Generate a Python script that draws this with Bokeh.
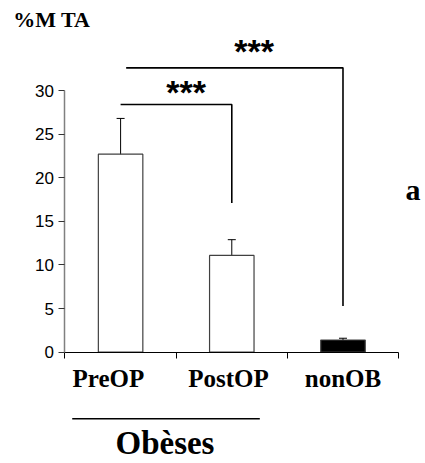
from bokeh.plotting import figure
from bokeh.models import (Range1d, LinearAxis, FixedTicker, Label, Whisker, TeeHead,
                          ColumnDataSource)
from bokeh.embed import file_html
from bokeh.resources import INLINE
from bokeh.core.properties import value

# ---- data ----
categories = ["PreOP", "PostOP", "nonOB"]
means = [22.7, 11.1, 1.4]
errors = [4.1, 1.8, 0.2]
bar_fill = ["white", "white", "black"]
y_ticks = [0, 5, 10, 15, 20, 25, 30]
y_title = "%M TA"
panel_letter = "a"
group_label = "Obèses"
# significance brackets between categories
bracket_from = [0, 0]
bracket_to = [1, 2]
bracket_heights = [28.4, 32.6]
bracket_drop_to = [17.1, 5.3]
bracket_text = ["***", "***"]

# ---- layout helpers (positions/styles) ----
x = [i + 0.5 for i in range(len(categories))]
label_x = [0.39, 1.47, 2.50]
bracket_left_shift = [0.0, 0.05]
star_x = [1.09, 1.70]
star_y = [30.4, 35.1]
group_line_x = [0.065, 1.752]
group_line_y = -7.63

p = figure(width=425, height=463, x_range=Range1d(-0.580, 3.242), y_range=Range1d(-12.76, 40.32),
           output_backend="svg", toolbar_location=None,
           x_axis_type=None, y_axis_type=None,
           min_border_left=0, min_border_right=0, min_border_top=0, min_border_bottom=0)
p.outline_line_color = None
p.background_fill_color = "white"
p.border_fill_color = "white"

yaxis = LinearAxis(bounds=(0, 30), fixed_location=0,
                   ticker=FixedTicker(ticks=y_ticks, minor_ticks=[]),
                   axis_line_color="#808080", axis_line_width=1.5,
                   major_tick_line_color="#333333", major_tick_out=6, major_tick_in=0,
                   minor_tick_line_color=None,
                   major_label_text_font="Liberation Sans", major_label_text_font_size="17px",
                   major_label_text_color="black", major_label_standoff=5)
p.add_layout(yaxis, "left")

xaxis = LinearAxis(bounds=(0, 3), fixed_location=0,
                   ticker=FixedTicker(ticks=label_x, minor_ticks=[0, 1, 2, 3]),
                   major_label_overrides={lx: c for lx, c in zip(label_x, categories)},
                   major_tick_line_color=None, major_tick_out=0, major_tick_in=0,
                   minor_tick_line_color="black", minor_tick_out=6, minor_tick_in=0,
                   axis_line_color="black", axis_line_width=1.2,
                   major_label_text_font="Liberation Serif", major_label_text_font_style="bold",
                   major_label_text_font_size="25px", major_label_text_color="black",
                   major_label_standoff=7)
p.add_layout(xaxis, "below")

p.vbar(x=x, top=means, width=0.4, fill_color=bar_fill, line_color="#404040", line_width=1.2)

src = ColumnDataSource(dict(x=x, upper=[m + e for m, e in zip(means, errors)],
                            lower=[m - e for m, e in zip(means, errors)]))
p.add_layout(Whisker(base="x", upper="upper", lower="lower", source=src,
                     line_color="black", line_width=1,
                     upper_head=TeeHead(size=8, line_color="black", line_width=1),
                     lower_head=TeeHead(size=8, line_color="black", line_width=1)))

xs, ys = [], []
for f, t, h, d, s in zip(bracket_from, bracket_to, bracket_heights, bracket_drop_to, bracket_left_shift):
    xs.append([x[f] + s, x[t], x[t]])
    ys.append([h, h, d])
p.multi_line(xs, ys, line_color="black", line_width=1.6)
p.text(x=star_x, y=star_y, text=bracket_text, text_font=value("Liberation Sans"),
       text_font_style="bold", text_font_size="34px", text_align="center",
       text_baseline="alphabetic", y_offset=5, text_color="black")

p.add_layout(Label(x=-0.466, y=38.15, text=y_title, text_font="Liberation Serif",
                   text_font_style="bold", text_font_size="22px", text_baseline="alphabetic",
                   text_color="black"))
p.add_layout(Label(x=3.062, y=18.6, text=panel_letter, text_font="Liberation Serif",
                   text_font_style="bold", text_font_size="30px", text_baseline="alphabetic",
                   text_color="black"))
p.add_layout(Label(x=0.899, y=-10.45, text=group_label, text_font="Liberation Serif",
                   text_font_style="bold", text_font_size="33px", text_align="center",
                   text_baseline="alphabetic", text_color="black"))
p.segment(x0=[group_line_x[0]], y0=[group_line_y], x1=[group_line_x[1]], y1=[group_line_y],
          line_color="black", line_width=1.5)

open("out.html", "w").write(file_html(p, INLINE))
